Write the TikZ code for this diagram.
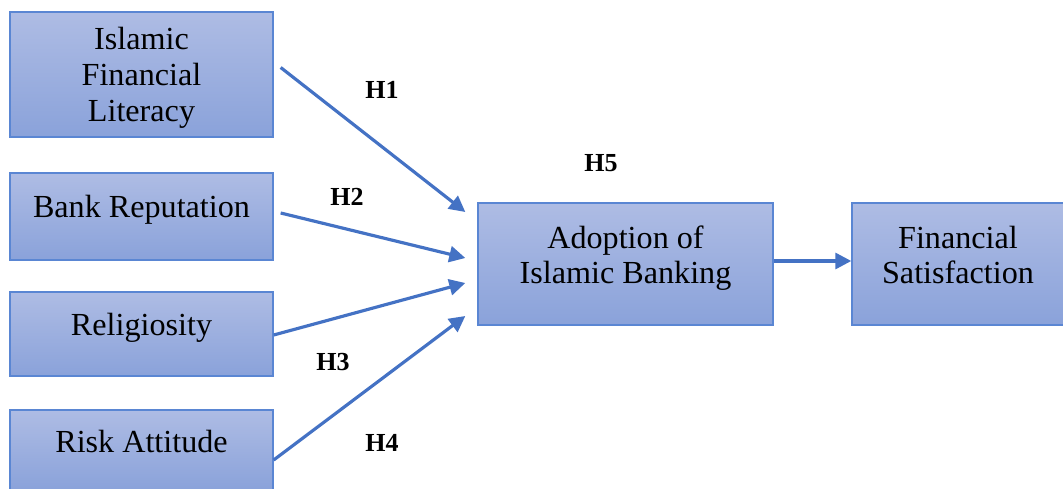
\documentclass[tikz,border=0pt]{standalone}
\usepackage{fontspec}
\setmainfont{Liberation Serif}
\usepackage{xcolor}
\definecolor{boxTop}{HTML}{AEBCE4}
\definecolor{boxBottom}{HTML}{8AA2DA}
\definecolor{boxBorder}{HTML}{5A86D3}
\definecolor{linkBlue}{HTML}{4472C4}
\usetikzlibrary{arrows.meta}

\begin{document}
\begin{tikzpicture}[x=0.02cm, y=-0.02cm,
  factor/.style={draw=boxBorder, line width=0.8pt, top color=boxTop, bottom color=boxBottom,
    align=center, font=\fontsize{18.3}{20.3}\selectfont, inner sep=0pt},
  link/.style={linkBlue, line width=1.8pt, -{Triangle[length=0.32cm, width=0.32cm]}},
  hyp/.style={font=\fontsize{14.8}{16}\selectfont\bfseries, inner sep=0pt}]
  \useasboundingbox (0,0) rectangle (1063,489);
  \node[factor, minimum width=5.26cm, minimum height=2.5cm, text depth=0pt] (ifl) at (141.5,74.5) {Islamic\\Financial\\Literacy};
  \node[factor, minimum width=5.26cm, minimum height=1.74cm, text depth=12pt] (br) at (141.5,216.5) {Bank Reputation};
  \node[factor, minimum width=5.26cm, minimum height=1.68cm, text depth=11pt] (rel) at (141.5,334) {Religiosity};
  \node[factor, minimum width=5.26cm, minimum height=1.6cm, text depth=10pt] (risk) at (141.5,450) {Risk Attitude};
  \node[factor, minimum width=5.9cm, minimum height=2.44cm, text depth=10.5pt] (adopt) at (625.5,264) {Adoption of\\Islamic Banking};
  \node[factor, minimum width=4.24cm, minimum height=2.44cm, text depth=10.5pt] (fin) at (958,264) {Financial\\Satisfaction};
  \draw[link] ([shift={(7,-7)}]ifl.east) -- ([shift={(-12,-52)}]adopt.west);
  \draw[link] ([shift={(7,-3.5)}]br.east) -- ([shift={(-12,-6)}]adopt.west);
  \draw[link] ([shift={(0,1)}]rel.east) -- ([shift={(-12,19)}]adopt.west);
  \draw[link] ([shift={(0,10)}]risk.east) -- ([shift={(-12,52)}]adopt.west);
  \draw[link] ([shift={(0,-3)}]adopt.east) -- ([shift={(0,-3)}]fin.west);
  \node[hyp] (h1) at (382,90) {H1};
  \node[hyp] (h2) at (347,197) {H2};
  \node[hyp] (h3) at (333,362) {H3};
  \node[hyp] (h4) at (382,443) {H4};
  \node[hyp] (h5) at (601,163) {H5};
\end{tikzpicture}
\end{document}
